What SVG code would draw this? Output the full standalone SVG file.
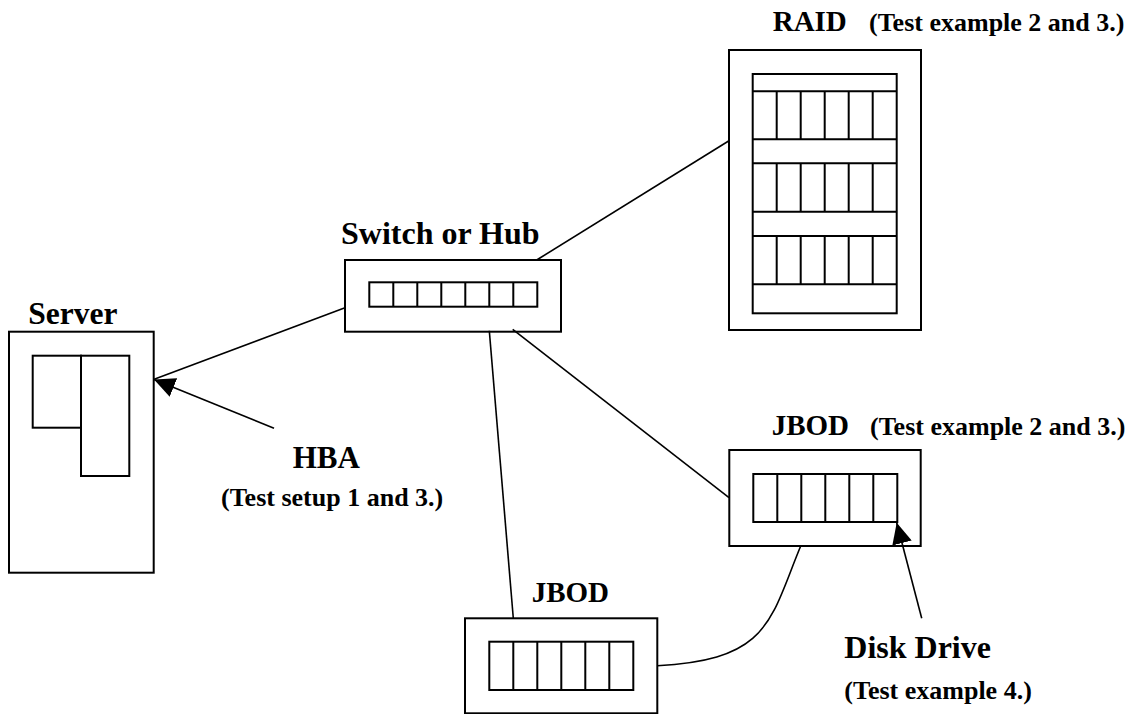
<svg xmlns="http://www.w3.org/2000/svg" width="1138" height="714" viewBox="0 0 1138 714">
  <style>
    .box { fill: #fff; stroke: #000; stroke-width: 2; }
    .cell { fill: none; stroke: #000; stroke-width: 2; }
    .link { fill: none; stroke: #000; stroke-width: 1.6; }
    .lbl { font-family: "Liberation Serif", "Times New Roman", serif; font-weight: bold; fill: #000; }
  </style>
  <defs>
    <marker id="arrow" markerUnits="userSpaceOnUse" viewBox="0 0 21 20" refX="21" refY="10" markerWidth="21" markerHeight="20" orient="auto">
      <path d="M0,0 L21,10 L0,20 z" fill="#000"/>
    </marker>
  </defs>
  <rect width="1138" height="714" fill="#fff"/>

  <!-- server with HBA card -->
  <g id="server">
    <rect class="box" x="9" y="331.7" width="144.7" height="241"/>
    <rect class="cell" x="32.7" y="355.7" width="48.3" height="72"/>
    <rect class="cell" x="81" y="355.7" width="48.3" height="120.3"/>
    <text class="lbl" x="28.3" y="323.7" font-size="31.5">Server</text>
  </g>

  <!-- switch / hub with 7 ports -->
  <g id="switch">
    <rect class="box" x="345" y="260" width="216" height="71.7"/>
    <rect class="cell" x="369.3" y="282.3" width="168" height="24.4"/>
    <path class="cell" d="M393.3,282.3V306.7 M417.3,282.3V306.7 M441.3,282.3V306.7 M465.3,282.3V306.7 M489.3,282.3V306.7 M513.3,282.3V306.7"/>
    <text class="lbl" x="341" y="244.3" font-size="32">Switch or Hub</text>
  </g>

  <!-- RAID enclosure: three shelves of six drives -->
  <g id="raid">
    <rect class="box" x="729" y="50" width="192" height="280"/>
    <rect class="cell" x="752.7" y="74" width="144" height="239.3"/>
    <path class="cell" d="M752.7,91.3H896.7 M752.7,139.3H896.7 M752.7,163.3H896.7 M752.7,211.7H896.7 M752.7,236H896.7 M752.7,284.3H896.7"/>
    <path class="cell" d="M776.7,91.3V139.3 M800.7,91.3V139.3 M824.7,91.3V139.3 M848.7,91.3V139.3 M872.7,91.3V139.3"/>
    <path class="cell" d="M776.7,163.3V211.7 M800.7,163.3V211.7 M824.7,163.3V211.7 M848.7,163.3V211.7 M872.7,163.3V211.7"/>
    <path class="cell" d="M776.7,236V284.3 M800.7,236V284.3 M824.7,236V284.3 M848.7,236V284.3 M872.7,236V284.3"/>
    <text class="lbl" x="772.7" y="30.5" font-size="29">RAID</text>
    <text class="lbl" x="869" y="30.5" font-size="26">(Test example 2 and 3.)</text>
  </g>

  <!-- JBOD, right -->
  <g id="jbod-right">
    <rect class="box" x="729.3" y="450" width="191.4" height="96"/>
    <rect class="cell" x="753.3" y="474" width="144" height="48"/>
    <path class="cell" d="M777.3,474V522 M801.3,474V522 M825.3,474V522 M849.3,474V522 M873.3,474V522"/>
    <text class="lbl" x="771.7" y="435" font-size="29">JBOD</text>
    <text class="lbl" x="870" y="435" font-size="26">(Test example 2 and 3.)</text>
  </g>

  <!-- JBOD, bottom -->
  <g id="jbod-bottom">
    <rect class="box" x="465" y="618.3" width="192.3" height="95"/>
    <rect class="cell" x="489.3" y="641.7" width="144" height="48.3"/>
    <path class="cell" d="M513.3,641.7V690 M537.3,641.7V690 M561.3,641.7V690 M585.3,641.7V690 M609.3,641.7V690"/>
    <text class="lbl" x="531.7" y="601.7" font-size="29">JBOD</text>
  </g>

  <!-- callout labels -->
  <g id="hba-label">
    <text class="lbl" x="292.7" y="468.3" font-size="31">HBA</text>
    <text class="lbl" x="221" y="505.7" font-size="26">(Test setup 1 and 3.)</text>
  </g>
  <g id="disk-label">
    <text class="lbl" x="844.3" y="657.7" font-size="32">Disk Drive</text>
    <text class="lbl" x="844.3" y="699.3" font-size="26">(Test example 4.)</text>
  </g>

  <!-- connectors (drawn last so callout arrows sit on top of the boxes) -->
  <g id="connectors">
    <line class="link" x1="153.5" y1="379.5" x2="345" y2="307.7"/>
    <line class="link" x1="536.7" y1="260" x2="729" y2="140.7"/>
    <line class="link" x1="512.7" y1="329.3" x2="729" y2="497.7"/>
    <line class="link" x1="489.3" y1="330.7" x2="513.3" y2="618.3"/>
    <path class="link" d="M800.7,546 C770,620 770,660 657.3,665.7"/>
    <line class="link" x1="274" y1="428.3" x2="154" y2="379.5" marker-end="url(#arrow)"/>
    <line class="link" x1="921.7" y1="618.3" x2="896.7" y2="522.7" marker-end="url(#arrow)"/>
  </g>
</svg>
